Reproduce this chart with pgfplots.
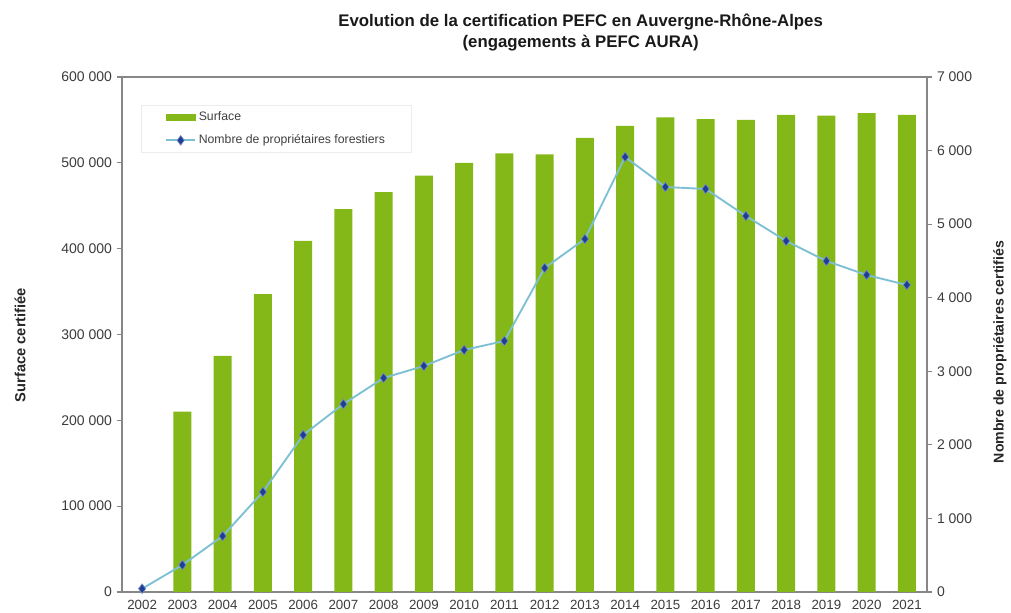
\documentclass[border=0pt]{standalone}
\usepackage{fontspec}
\setmainfont{Liberation Sans}
\usepackage{pgfplots}
\pgfplotsset{compat=1.18}
\definecolor{bargreen}{RGB}{132,184,25}
\definecolor{lineblue}{RGB}{125,192,212}
\definecolor{markblue}{RGB}{30,62,150}
\definecolor{axgray}{RGB}{135,135,135}
\definecolor{txtgray}{RGB}{60,60,60}
\pgfplotsset{mylinelegend/.style={legend image code/.code={\draw[mark repeat=2,mark phase=2,##1] plot coordinates {(0pt,0pt) (10.875pt,0pt) (21.75pt,0pt)};}}}
\begin{document}
\begin{tikzpicture}
\useasboundingbox (0,0) rectangle (758.25pt,459.75pt);
\pgfplotsset{
  every axis/.append style={
    at={(91.5pt,15.75pt)}, anchor=south west,
    scale only axis, width=603.75pt, height=386.25pt,
    xmin=-0.5, xmax=19.5,
    axis line style={axgray, line width=0.9pt},
    every tick/.style={axgray, line width=0.8pt},
    major tick length=4pt,
    tick label style={font=\fontsize{10.5}{12}\selectfont, text=txtgray},
    /pgf/number format/assume math mode=true,
    scaled y ticks=false,
    yticklabel style={/pgf/number format/.cd, fixed, 1000 sep={\ }},
  }
}
\begin{axis}[
  ymin=0, ymax=600000,
  ytick={0,100000,200000,300000,400000,500000,600000},
  ytick pos=left, tick align=outside,
  xtick={0,...,19},
  xticklabels={2002,2003,2004,2005,2006,2007,2008,2009,2010,2011,2012,2013,2014,2015,2016,2017,2018,2019,2020,2021},
  xtick pos=bottom,
  x tick style={draw=none},
  minor xtick={-0.5,0.5,...,19.5},
  minor x tick style={axgray, line width=0.8pt},
  minor tick length=6pt,
  xticklabel style={yshift=1.5pt, font=\fontsize{10}{11}\selectfont},
  ybar, bar width=13.5pt,
]
\addplot[fill=bargreen, draw=none] coordinates {
(1,210000) (2,275000) (3,347000) (4,409000) (5,446000) (6,466000) (7,485000)
(8,500000) (9,511000) (10,510000) (11,529000) (12,543000) (13,553000)
(14,551000) (15,550000) (16,556000) (17,555000) (18,558000) (19,556000)};
\end{axis}
\begin{axis}[
  ymin=0, ymax=7000,
  ytick={0,1000,2000,3000,4000,5000,6000,7000},
  axis y line*=right, axis x line=none,
  tick align=outside,
  legend style={at={(0.0236,0.9456)}, anchor=north west,
    draw=gray!15, fill=white, font=\fontsize{9.2}{11}\selectfont,
    inner xsep=18pt, inner ysep=3pt, row sep=5pt, text=black!75},
  legend cell align=left,
]
\addlegendimage{legend image code/.code={\fill[bargreen] (0pt,-2.5pt) rectangle (21.75pt,2.5pt);}}
\addlegendentry{Surface}
\addplot[lineblue, line width=1.4pt, mark=diamond*, mark size=3.6pt,
  mark options={fill=markblue, draw=markblue!60!white, line width=0.5pt},
  mylinelegend]
coordinates {
(0,45) (1,367) (2,760) (3,1360) (4,2134) (5,2555) (6,2909) (7,3072) (8,3290)
(9,3412) (10,4404) (11,4798) (12,5913) (13,5505) (14,5478) (15,5111)
(16,4771) (17,4499) (18,4309) (19,4173)};
\addlegendentry{Nombre de propriétaires forestiers}
\end{axis}
\node[align=center, font=\fontsize{12.6}{15.75}\bfseries\selectfont, text=black!90] at (435.5pt,435.4pt)
  {Evolution de la certification PEFC en Auvergne-Rhône-Alpes\\(engagements à PEFC AURA)};
\node[rotate=90, font=\fontsize{11}{12}\bfseries\selectfont, text=black!85] at (15pt,201pt) {Surface certifiée};
\node[rotate=90, font=\fontsize{10.6}{12}\bfseries\selectfont, text=black!85] at (750pt,195.75pt) {Nombre de propriétaires certifiés};
\end{tikzpicture}
\end{document}
